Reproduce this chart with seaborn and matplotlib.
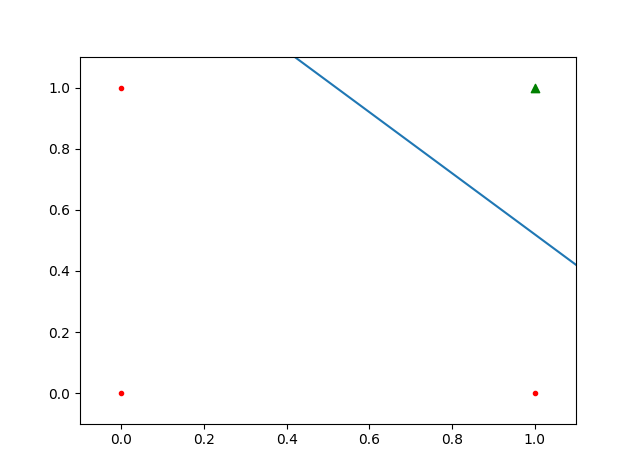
import numpy as np
import pandas as pd
import seaborn as sns
import matplotlib
matplotlib.use('Agg')
import matplotlib.pyplot as plt

# AND gate inputs and targets
x1 = [0, 0, 1, 1]
x2 = [0, 1, 0, 1]
target = [0, 0, 0, 1]

# decision boundary weights: w1*x + w2*y + b = 0
w1, w2, b = 1.0, 1.0, -1.52

df = pd.DataFrame({'x1': x1, 'x2': x2, 'target': target})
neg = df[df['target'] == 0]
pos = df[df['target'] == 1]

line_x = np.linspace(-0.5, 1.5, 50)
line_y = -(w1 * line_x + b) / w2

fig, ax = plt.subplots(figsize=(6.4, 4.76), dpi=100)

sns.scatterplot(x=neg['x1'], y=neg['x2'], color='red', marker='.', s=36,
                edgecolor='red', linewidth=1, ax=ax, zorder=3)
sns.scatterplot(x=pos['x1'], y=pos['x2'], color='green', marker='^', s=36,
                edgecolor='green', linewidth=1, ax=ax, zorder=3)
sns.lineplot(x=line_x, y=line_y, color='C0', linewidth=1.5, ax=ax, sort=False)

ax.set_xlim(-0.1, 1.1)
ax.set_ylim(-0.1, 1.1)
ax.set_xlabel('')
ax.set_ylabel('')

plt.savefig('out.png', dpi=100)
